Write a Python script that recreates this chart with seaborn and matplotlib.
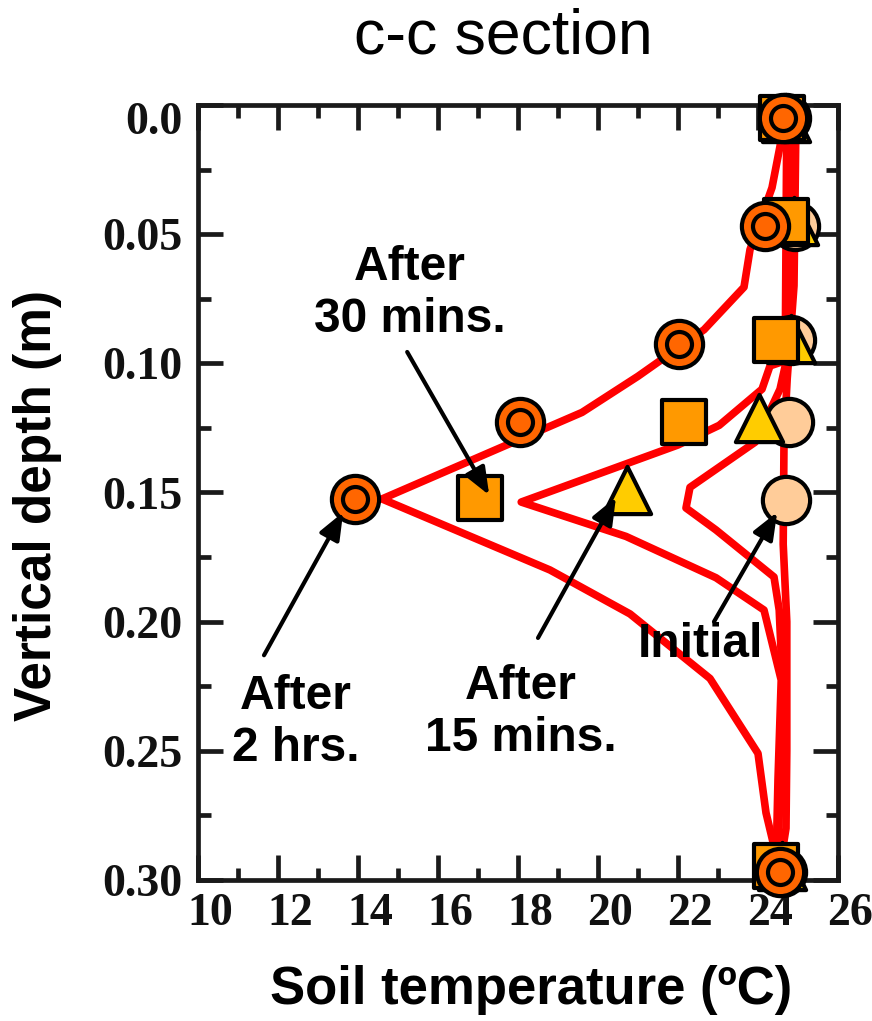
import matplotlib
matplotlib.use("Agg")
import matplotlib.pyplot as plt
import matplotlib.transforms as mtransforms
from matplotlib.ticker import MultipleLocator, FixedLocator, FixedFormatter
import seaborn as sns

# ---------------- data ----------------
# measured points (depth m, temperature degC)
init_pts_d = [0.005, 0.047, 0.091, 0.1227, 0.153, 0.297]
init_pts_T = [24.70, 24.93, 24.83, 24.78, 24.70, 24.60]

m15_pts_d = [0.005, 0.045, 0.0906, 0.121, 0.149, 0.2946]
m15_pts_T = [24.70, 24.90, 24.83, 24.03, 20.73, 24.60]

m30_pts_d = [0.005, 0.045, 0.091, 0.1227, 0.152, 0.2946]
m30_pts_T = [24.60, 24.70, 24.45, 22.15, 17.05, 24.45]

h2_pts_d = [0.005, 0.047, 0.0925, 0.1227, 0.1525, 0.297]
h2_pts_T = [24.63, 24.18, 22.03, 18.05, 13.93, 24.55]

# simulated profiles
init_line_d = [0.005, 0.07, 0.106, 0.13, 0.17, 0.20, 0.25, 0.28, 0.2946]
init_line_T = [24.95, 24.90, 24.73, 24.65, 24.63, 24.72, 24.72, 24.70, 24.55]

m15_line_d = [0.005, 0.075, 0.101, 0.110, 0.1305, 0.148, 0.156, 0.1645, 0.1827, 0.1955, 0.230, 0.261, 0.2946]
m15_line_T = [24.80, 24.75, 24.68, 24.55, 23.93, 22.30, 22.20, 22.95, 24.40, 24.53, 24.63, 24.55, 24.50]

m30_line_d = [0.005, 0.099, 0.101, 0.110, 0.124, 0.1316, 0.1537, 0.167, 0.183, 0.1955, 0.2226, 0.261, 0.2946]
m30_line_T = [24.72, 24.68, 24.30, 24.10, 23.03, 22.00, 18.08, 20.70, 22.95, 24.15, 24.58, 24.50, 24.45]

h2_line_d = [0.005, 0.016, 0.032, 0.056, 0.0705, 0.087, 0.105, 0.119, 0.1525, 0.18, 0.197, 0.222, 0.251, 0.274, 0.287, 0.2946]
h2_line_T = [24.65, 24.55, 24.35, 23.80, 23.65, 22.65, 21.00, 19.60, 14.60, 18.80, 20.80, 22.80, 24.00, 24.20, 24.40, 24.45]

x_ticks = [10, 12, 14, 16, 18, 20, 22, 24, 26]
x_ticklabels = ["10", "12", "14", "16", "18", "20", "22", "24", "26"]
y_ticks = [0.0, 0.05, 0.10, 0.15, 0.20, 0.25, 0.30]
y_ticklabels = ["0.0", "0.05", "0.10", "0.15", "0.20", "0.25", "0.30"]

labels = ["After\n30 mins.", "After\n2 hrs.", "After\n15 mins.", "Initial"]
label_pos = [(15.3, 0.0728), (12.45, 0.239), (18.08, 0.235), (22.55, 0.209)]
arrow_tail = [(15.23, 0.0956), (11.65, 0.213), (18.5, 0.2063), (22.9, 0.200)]
arrow_head = [(17.28, 0.151), (13.63, 0.1576), (20.45, 0.1518), (24.48, 0.1576)]

# ---------------- style ----------------
sns.set_theme(style="ticks")
plt.rcParams["font.family"] = ["Liberation Sans", "DejaVu Sans"]
plt.rcParams["text.color"] = "black"
plt.rcParams["axes.labelcolor"] = "black"

RED = "#FF0000"
C_H2 = "#FF6600"
C_M30 = "#FF9900"
C_M15 = "#FFCC00"
C_INIT = "#FFCC99"
SPINE = "#1a1a1a"

fig = plt.figure(figsize=(8.72, 10.21), dpi=100)
ax = fig.add_axes([198 / 872, 1 - 880 / 1021, 640 / 872, 775 / 1021])

# lines
for d, T in [(init_line_d, init_line_T), (m15_line_d, m15_line_T),
             (m30_line_d, m30_line_T), (h2_line_d, h2_line_T)]:
    sns.lineplot(x=T, y=d, sort=False, estimator=None, color=RED, lw=5.5,
                 ax=ax, legend=False, zorder=2)

MS = 34
sns.scatterplot(x=init_pts_T, y=init_pts_d, marker="o", s=MS ** 2, color=C_INIT,
                edgecolor="black", linewidth=3, ax=ax, legend=False, zorder=3, clip_on=False)
sns.scatterplot(x=m15_pts_T, y=m15_pts_d, marker="^", s=MS ** 2, color=C_M15,
                edgecolor="black", linewidth=3, ax=ax, legend=False, zorder=4, clip_on=False)
sns.scatterplot(x=m30_pts_T, y=m30_pts_d, marker="s", s=31 ** 2, color=C_M30,
                edgecolor="black", linewidth=3, ax=ax, legend=False, zorder=5, clip_on=False)
sns.scatterplot(x=h2_pts_T, y=h2_pts_d, marker="o", s=MS ** 2, color=C_H2,
                edgecolor="black", linewidth=3, ax=ax, legend=False, zorder=6, clip_on=False)
sns.scatterplot(x=h2_pts_T, y=h2_pts_d, marker="o", s=18 ** 2, color=C_H2,
                edgecolor="black", linewidth=3, ax=ax, legend=False, zorder=7, clip_on=False)

ax.set_xlim(10, 26)
ax.set_ylim(0.30, 0.0)

ax.xaxis.set_major_locator(FixedLocator(x_ticks))
ax.xaxis.set_major_formatter(FixedFormatter(x_ticklabels))
ax.xaxis.set_minor_locator(MultipleLocator(1))
ax.yaxis.set_major_locator(FixedLocator(y_ticks))
ax.yaxis.set_major_formatter(FixedFormatter(y_ticklabels))
ax.yaxis.set_minor_locator(MultipleLocator(0.025))

ax.tick_params(which="both", direction="in", top=True, right=True,
               width=3.4, color=SPINE)
ax.tick_params(which="major", length=18)
ax.tick_params(which="minor", length=9)
ax.tick_params(axis="x", which="major", pad=9)
ax.tick_params(axis="y", which="major", pad=11)

for sp in ax.spines.values():
    sp.set_linewidth(3.4)
    sp.set_color(SPINE)
    sp.set_visible(True)

for lab in ax.get_xticklabels() + ax.get_yticklabels():
    lab.set_fontfamily("Liberation Serif")
    lab.set_fontweight("bold")
    lab.set_fontsize(33)
    lab.set_color("#111111")

# small offsets seen in the reference tick labels
dx = mtransforms.ScaledTranslation(12 / 100, 0, fig.dpi_scale_trans)
for lab in ax.get_xticklabels():
    lab.set_transform(lab.get_transform() + dx)
ylabs = ax.get_yticklabels()
ylabs[0].set_transform(ylabs[0].get_transform() +
                       mtransforms.ScaledTranslation(0, -13 / 100, fig.dpi_scale_trans))

ax.set_title("c-c section", fontsize=45, pad=37, x=(503 - 198) / 640,
             fontfamily="Liberation Sans", color="black")
ax.set_xlabel("Soil temperature (ºC)", fontsize=38, fontweight="bold", va="center",
              color="black")
ax.xaxis.set_label_coords((531 - 198) / 640, (880 - 990) / 775)
ax.set_ylabel("Vertical depth (m)", fontsize=37, fontweight="bold", va="center",
              color="black")
ax.yaxis.set_label_coords((38 - 198) / 640, (880 - 505) / 775)

for txt, pos, tail, head in zip(labels, label_pos, arrow_tail, arrow_head):
    ax.text(pos[0], pos[1], txt, fontsize=34.5, fontweight="bold", ha="center",
            va="center", linespacing=1.2, zorder=10, color="black")
    ax.annotate("", xy=head, xytext=tail,
                arrowprops=dict(arrowstyle="-|>,head_length=0.55,head_width=0.22",
                                lw=3, color="black", mutation_scale=30,
                                shrinkA=0, shrinkB=0),
                zorder=10)

fig.savefig("out.png", dpi=100)
